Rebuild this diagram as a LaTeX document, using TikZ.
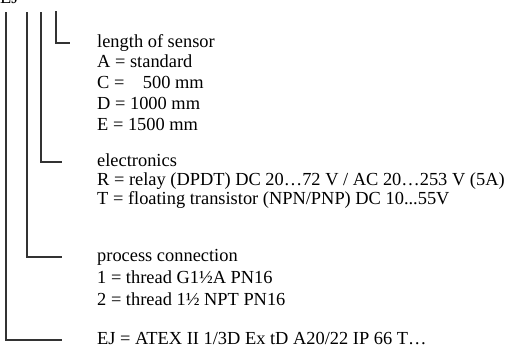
\documentclass[tikz,border=0pt]{standalone}
\usepackage{fontspec}
\setmainfont{Liberation Serif}
\begin{document}
\begin{tikzpicture}[x=1pt,y=-1pt,
    lead/.style={line width=1.4pt, black!80},
    txt/.style={anchor=west, inner sep=0pt, text height=12pt, text depth=4pt,
      font=\fontsize{18.4}{21}\selectfont}]
  \useasboundingbox (0,0) rectangle (515,351);
  \node (code) [txt, anchor=base west] at (0,3) {EJ};%cut off at the top
  % tops of the leads
  \coordinate (t1) at (6,12);
  \coordinate (t2) at (27,12);
  \coordinate (t3) at (41,12);
  \coordinate (t4) at (56,11);
  % length of sensor
  \node (len) [txt] at (97,43) {length of sensor};
  \node (lenA) [txt] at (97,63) {A = standard};
  \node (lenC) [txt] at (97,84) {C =\hspace{1em}500 mm};
  \node (lenD) [txt] at (97,105) {D = 1000 mm};
  \node (lenE) [txt] at (97,126) {E = 1500 mm};
  % electronics
  \node (elec) [txt] at (97,162) {electronics};
  \node (elecR) [txt] at (97,181) {R = relay (DPDT) DC 20…72 V / AC 20…253 V (5A)};
  \node (elecT) [txt] at (97,200) {T = floating transistor (NPN/PNP) DC 10...55V};
  % process connection
  \node (proc) [txt] at (97,257) {process connection};
  \node (proc1) [txt] at (97,279) {1 = thread G1½A PN16};
  \node (proc2) [txt] at (97,301) {2 = thread 1½ NPT PN16};
  % approval
  \node (atex) [txt] at (97,340) {EJ = ATEX II 1/3D Ex tD A20/22 IP 66 T…};
  \draw[lead] (t4) |- ([xshift=-27pt]len.west);
  \draw[lead] (t3) |- ([xshift=-35pt]elec.west);
  \draw[lead] (t2) |- ([xshift=-35pt]proc.west);
  \draw[lead] (t1) |- ([xshift=-35pt]atex.west);
\end{tikzpicture}
\end{document}
